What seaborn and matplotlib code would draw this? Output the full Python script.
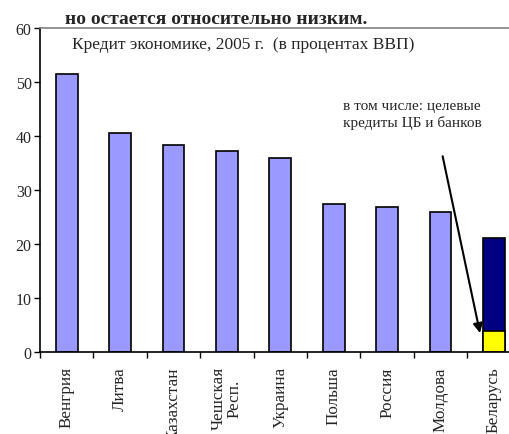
import matplotlib
matplotlib.use("Agg")
import matplotlib.pyplot as plt
import numpy as np
import pandas as pd
import seaborn as sns

# Credit to the economy, 2005, % of GDP
countries = ["Венгрия", "Литва", "Казахстан", "Чешская\nРесп.", "Украина",
             "Польша", "Россия", "Молдова", "Беларусь"]
credit_total = [51.5, 40.7, 38.4, 37.3, 36.0, 27.5, 27.0, 26.0, 21.2]
# targeted credits of the central bank and banks (Belarus only)
credit_targeted = [0, 0, 0, 0, 0, 0, 0, 0, 3.9]
y_ticks = [0, 10, 20, 30, 40, 50, 60]

df = pd.DataFrame({"country": countries,
                   "total": credit_total,
                   "targeted": credit_targeted})

sns.set_theme(style="white")
plt.rcParams["font.family"] = ["Liberation Serif", "DejaVu Serif"]

fig = plt.figure(figsize=(5.10, 4.35), dpi=100)
ax = fig.add_axes([40 / 510, (435 - 353.3) / 435, 480.6 / 510, 324 / 435])

bar_colors = ["#9999FF"] * (len(countries) - 1) + ["#000080"]
sns.barplot(data=df, x="country", y="total", hue="country", palette=bar_colors,
            order=countries, width=0.41, saturation=1, edgecolor="black",
            linewidth=1.2, legend=False, ax=ax)
sns.barplot(data=df, x="country", y="targeted", order=countries, width=0.41,
            color="#FFFF00", saturation=1, edgecolor="black", linewidth=1.2,
            ax=ax)
for p in ax.patches:
    if p.get_height() == 0:
        p.set_visible(False)

ax.set_xlim(-0.5, len(countries) - 0.5)
ax.set_ylim(0, 60)
ax.set_yticks(y_ticks)
ax.set_xlabel("")
ax.set_ylabel("")

ax.set_xticks(range(len(countries)))
ax.set_xticklabels(countries, rotation=90, fontsize=12.3, va="top",
                   ha="center", linespacing=0.95)
ax.set_xticks(np.arange(-0.5, len(countries), 1.0), minor=True)
ax.tick_params(axis="x", which="major", length=0, pad=10)
ax.tick_params(axis="x", which="minor", length=4, width=1, color="black",
               direction="out", bottom=True)
ax.tick_params(axis="y", length=4, width=1, color="black", direction="out",
               left=True, labelsize=11.5, pad=2)

for side in ["left", "bottom"]:
    ax.spines[side].set_color("black")
    ax.spines[side].set_linewidth(1.2)
ax.spines["top"].set_color("#808080")
ax.spines["top"].set_linewidth(1.2)
ax.spines["right"].set_visible(False)

ax.text(32 / 480.6, 1 - 16 / 324, "Кредит экономике, 2005 г.  (в процентах ВВП)",
        transform=ax.transAxes, fontsize=12.5, ha="left", va="center")

ax.annotate("", xy=(7.74, 3.56), xytext=(7.04, 36.3),
            arrowprops=dict(arrowstyle="-|>", color="black", lw=1.5,
                            mutation_scale=14, shrinkA=0, shrinkB=0))
ax.text(6.47, 44.1, "в том числе: целевые\nкредиты ЦБ и банков",
        fontsize=11, ha="center", va="center", linespacing=1.25)

fig.text(65 / 510, 1 - 19.5 / 435, "но остается относительно низким.",
         fontsize=14, fontweight="bold", ha="left", va="center")

fig.savefig("out.png", dpi=100)
